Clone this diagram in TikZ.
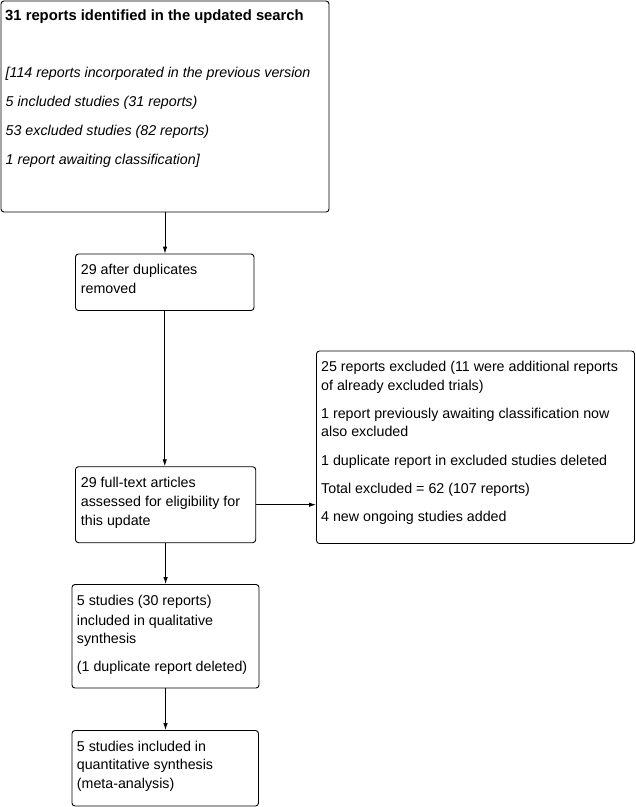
\documentclass[tikz,border=0pt]{standalone}
\usepackage{fontspec}
\setmainfont{Liberation Sans}
\usetikzlibrary{arrows.meta}
\begin{document}
\begin{tikzpicture}[x=1pt,y=-1pt,
  box/.style={draw, rounded corners=3pt, line width=0.9pt, inner sep=0pt},
  txt/.style={anchor=base west, inner sep=0pt, font=\fontsize{14.25}{17}\selectfont},
  ttl/.style={anchor=base west, inner sep=0pt, font=\fontsize{14.8}{17}\selectfont\bfseries},
  itl/.style={anchor=base west, inner sep=0pt, font=\fontsize{14.25}{17}\selectfont\itshape},
  arr/.style={-{Latex[length=7pt,width=4.5pt]}, line width=0.9pt}]
\useasboundingbox (0,0) rectangle (636,807);
% boxes
\node[box, minimum width=328pt, minimum height=211pt] (b1) at (165,106.5) {};
\node[box, minimum width=178.5pt, minimum height=56.5pt] (b2) at (164.75,282.25) {};
\node[box, minimum width=180.2pt, minimum height=76pt] (b3) at (165.6,504.7) {};
\node[box, minimum width=318pt, minimum height=192.5pt] (b4) at (475.5,447.25) {};
\node[box, minimum width=187pt, minimum height=103.5pt] (b5) at (165.5,636.25) {};
\node[box, minimum width=186.5pt, minimum height=75.5pt] (b6) at (165.25,768.25) {};
% texts box 1
\node[ttl] (t11) at (5,20) {31 reports identified in the updated search};
\node[itl] (t12) at (5.5,77.3) {[114 reports incorporated in the previous version};
\node[itl] (t13) at (5.5,106.7) {5 included studies (31 reports)};
\node[itl] (t14) at (5.5,135.7) {53 excluded studies (82 reports)};
\node[itl] (t15) at (5.5,164.7) {1 report awaiting classification]};
% box 2
\node[txt] (t21) at (80.7,274) {29 after duplicates};
\node[txt] (t22) at (80.7,293) {removed};
% box 3
\node[txt] (t31) at (80.7,487.3) {29 full-text articles};
\node[txt] (t32) at (80.7,506.5) {assessed for eligibility for};
\node[txt] (t33) at (80.7,525.7) {this update};
% box 4
\node[txt] (t41) at (321,371.7) {25 reports excluded (11 were additional reports};
\node[txt] (t42) at (321,390.3) {of already excluded trials)};
\node[txt] (t43) at (321,418.3) {1 report previously awaiting classification now};
\node[txt] (t44) at (321,436.7) {also excluded};
\node[txt] (t45) at (321,465.7) {1 duplicate report in excluded studies deleted};
\node[txt] (t46) at (321,493.3) {Total excluded = 62 (107 reports)};
\node[txt] (t47) at (321,521.7) {4 new ongoing studies added};
% box 5
\node[txt] (t51) at (76.7,605.7) {5 studies (30 reports)};
\node[txt] (t52) at (76.7,625) {included in qualitative};
\node[txt] (t53) at (76.7,643.5) {synthesis};
\node[txt] (t54) at (76.7,671) {(1 duplicate report deleted)};
% box 6
\node[txt] (t61) at (76.7,751) {5 studies included in};
\node[txt] (t62) at (76.7,769.5) {quantitative synthesis};
\node[txt] (t63) at (76.7,788.5) {(meta-analysis)};
% arrows
\draw[arr] (b1.south) -- (b1.south |- b2.north);
\draw[arr] (b2.south) -- (b2.south |- b3.north);
\draw[arr] (b3.east) -- (b3.east -| b4.west);
\draw[arr] (b3.south) -- (b3.south |- b5.north);
\draw[arr] (b5.south) -- (b5.south |- b6.north);
\end{tikzpicture}
\end{document}
